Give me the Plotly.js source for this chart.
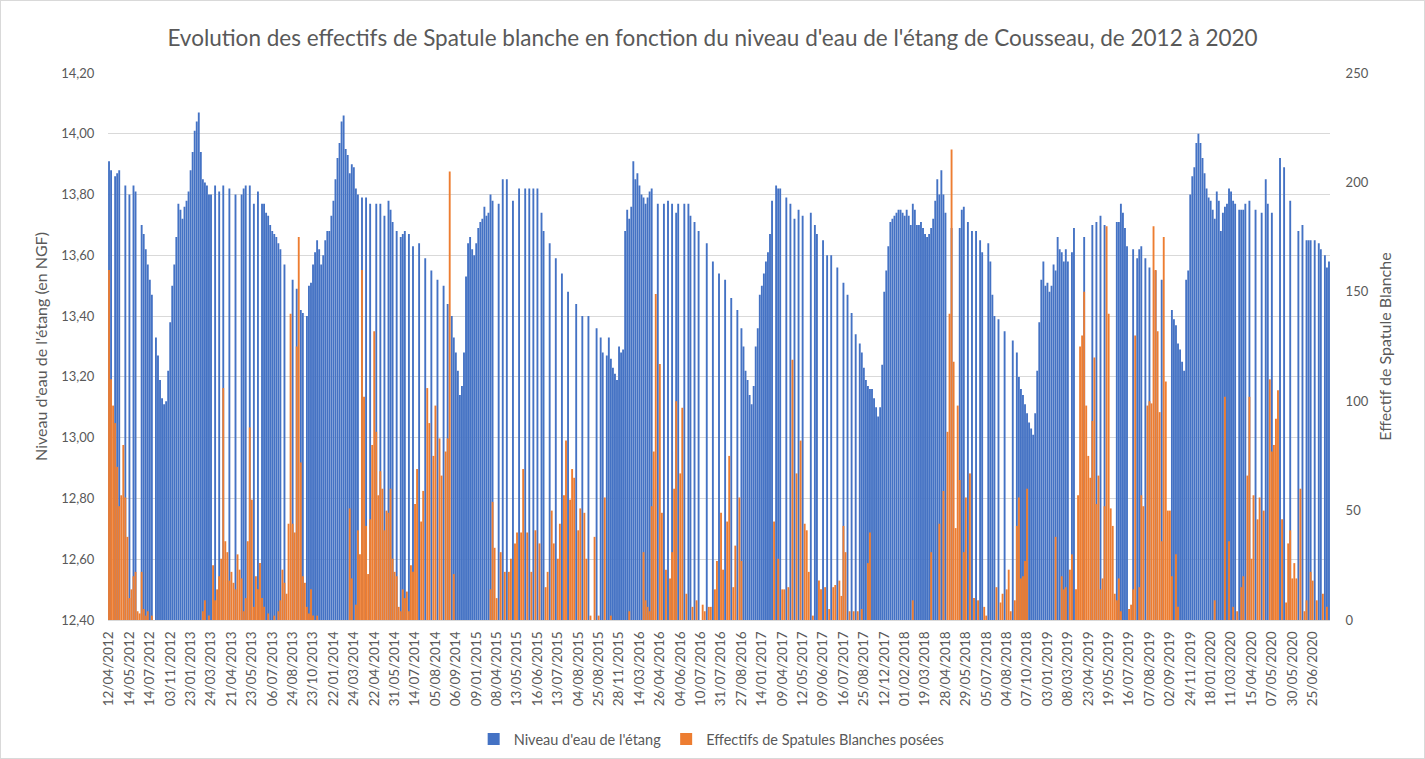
<!DOCTYPE html>
<html>
<head>
<meta charset="utf-8">
<script src="https://cdn.plot.ly/plotly-3.0.1.min.js"></script>
<style>
  html, body { margin: 0; padding: 0; background: #ffffff; }
  #chart { width: 1423px; height: 757px; border: 1px solid #d9d9d9; }
</style>
</head>
<body>
<div id="chart"></div>
<script>
const _ = null;

// Tick labels shown on the category axis (one every 10 rows)
const tickLabels = [
  "12/04/2012","14/05/2012","14/07/2012","03/11/2012","23/01/2013","24/03/2013","21/04/2013","23/05/2013","06/07/2013","24/08/2013",
  "23/10/2013","22/01/2014","24/03/2014","22/04/2014","31/05/2014","14/07/2014","05/08/2014","06/09/2014","09/01/2015","08/04/2015",
  "13/05/2015","16/06/2015","13/07/2015","04/08/2015","25/08/2015","28/11/2015","14/03/2016","26/04/2016","04/06/2016","10/07/2016",
  "31/07/2016","27/08/2016","14/01/2017","09/04/2017","12/05/2017","09/06/2017","16/07/2017","25/08/2017","12/12/2017","01/02/2018",
  "19/03/2018","28/04/2018","29/05/2018","05/07/2018","04/08/2018","07/10/2018","03/01/2019","08/03/2019","23/04/2019","19/05/2019",
  "16/07/2019","07/08/2019","02/09/2019","24/11/2019","18/01/2020","11/03/2020","15/04/2020","07/05/2020","30/05/2020","25/06/2020"
];

// Niveau d'eau de l'étang (m NGF), one value per row (null = not measured)
const niveauEau = [
  13.91,13.88,_,13.86,13.87,13.88,_,_,13.83,_,
  13.80,_,13.83,13.81,_,_,13.70,13.67,13.62,13.57,
  13.52,13.47,_,13.33,13.27,13.19,13.13,13.11,13.12,13.22,
  13.38,13.50,13.57,13.66,13.77,13.75,13.72,13.76,13.78,13.81,
  13.88,13.94,14.01,14.04,14.07,13.94,13.85,13.84,13.83,13.80,
  13.80,_,13.83,_,13.81,_,13.83,_,_,13.82,
  _,_,13.80,_,_,13.80,13.82,13.83,_,13.83,
  _,13.77,_,13.81,_,13.77,13.77,13.74,13.73,13.70,
  13.68,13.67,13.66,13.64,13.62,_,13.57,_,_,_,
  13.52,_,13.49,_,13.42,13.41,_,13.40,13.50,13.51,
  13.57,13.61,13.65,13.62,13.57,13.60,13.65,13.68,13.68,13.73,
  13.78,13.85,13.92,13.97,14.04,14.06,13.95,13.93,13.87,13.90,
  13.89,13.82,13.80,_,13.79,_,13.79,_,13.77,_,
  _,13.77,_,13.77,_,13.73,_,13.78,13.75,13.71,
  _,13.68,_,13.66,13.67,13.68,_,13.67,_,13.63,
  _,_,13.64,_,_,13.59,_,_,13.55,_,
  _,13.52,_,_,13.50,_,13.44,_,13.40,13.33,
  13.28,13.22,13.14,13.17,13.28,13.53,13.64,13.66,13.62,13.60,
  13.64,13.69,13.71,13.72,13.76,13.73,13.74,13.80,13.78,_,
  _,13.77,_,13.85,_,13.85,_,_,13.78,_,
  _,13.82,_,_,13.82,_,13.82,_,13.82,_,
  13.82,_,13.74,13.68,_,_,13.64,_,_,13.59,
  _,_,13.54,_,_,13.48,_,_,_,13.44,
  _,_,13.40,_,_,13.40,_,_,_,13.36,
  _,13.33,13.28,_,13.27,13.33,13.26,13.23,13.21,13.19,
  13.30,13.28,13.29,13.68,13.75,13.72,13.76,13.91,13.85,13.87,
  13.83,13.80,13.79,13.77,13.79,13.81,13.82,_,_,13.77,
  _,_,13.77,_,13.78,_,13.77,_,13.74,13.77,
  _,_,13.77,_,13.77,13.73,_,13.71,_,13.68,
  _,_,_,13.64,_,_,13.58,_,_,13.54,
  _,_,13.52,_,_,13.46,_,_,13.42,_,
  13.36,13.30,13.22,13.19,13.14,13.11,13.17,13.30,13.36,13.47,
  13.50,13.54,13.58,13.61,13.67,13.78,_,13.83,13.82,13.82,
  _,_,13.79,_,13.77,_,13.72,_,13.75,_,
  13.73,_,_,_,13.74,_,13.70,13.67,_,_,
  13.65,_,13.60,_,13.60,_,_,13.56,_,_,
  13.51,_,13.47,_,13.41,_,13.34,_,13.31,13.28,
  13.23,13.19,13.17,13.16,13.16,13.13,13.10,13.07,13.10,13.24,
  13.48,13.55,13.63,13.71,13.72,13.73,13.74,13.75,13.75,13.74,
  13.73,13.75,13.73,13.70,13.77,13.75,13.70,13.70,13.71,13.69,
  13.67,13.66,13.67,13.69,13.72,13.78,13.85,13.80,13.88,13.80,
  13.74,_,_,13.69,_,_,_,13.69,13.75,13.76,
  _,13.71,_,13.68,_,13.68,_,13.65,13.61,_,
  _,13.64,13.58,13.47,13.40,_,13.39,_,_,13.35,
  _,_,_,13.32,_,13.28,13.20,13.16,13.14,13.11,
  13.08,13.05,13.03,13.01,13.08,13.22,13.38,13.52,13.58,13.50,
  13.51,13.48,13.50,13.57,13.55,13.66,13.62,13.61,13.58,13.62,
  13.58,_,13.61,13.69,_,_,_,_,13.66,_,
  _,_,13.70,_,13.71,_,13.73,_,13.70,_,
  _,_,_,_,13.71,13.71,13.77,13.74,13.69,13.63,
  _,_,13.62,_,13.59,13.62,13.63,_,13.59,_,
  13.56,_,_,13.55,_,_,13.52,_,_,_,
  _,13.42,13.39,13.37,13.31,13.29,13.25,13.22,13.52,13.55,
  13.80,13.86,13.89,13.97,14.00,13.97,13.92,13.87,13.82,13.79,
  13.78,13.75,13.72,13.81,13.78,13.68,13.74,13.76,13.77,13.82,
  13.81,13.78,13.77,_,13.75,13.75,13.75,13.77,_,13.78,
  _,_,13.75,_,_,13.74,_,13.85,13.77,_,
  13.74,_,_,_,13.92,_,13.89,_,_,13.78,
  _,_,_,13.68,_,13.70,_,13.65,13.65,13.65,
  _,13.65,_,13.64,13.62,_,13.60,13.56,13.58
];

// Effectifs de Spatules Blanches posées, one value per row
const effectifs = [
  160,110,98,90,70,52,57,80,56,38,
  10,14,20,22,4,3,22,5,2,4,
  0,2,0,0,0,0,0,0,0,0,
  0,0,0,0,0,0,0,0,0,0,
  0,0,0,0,0,0,4,9,0,2,
  0,25,9,14,20,28,106,36,31,18,
  22,17,14,30,23,19,4,10,36,88,
  55,6,20,14,26,10,6,0,3,0,
  0,2,0,4,9,23,17,12,44,140,
  44,40,125,175,72,20,17,6,3,14,
  2,0,2,0,0,0,0,0,0,0,
  0,0,0,0,0,0,0,0,51,19,
  0,7,41,30,160,102,43,21,46,80,
  132,86,57,68,60,41,50,49,60,28,
  22,20,6,4,14,10,13,4,25,22,
  53,69,0,45,59,0,106,90,0,75,
  98,0,83,66,0,77,83,205,0,21,
  0,0,0,0,0,0,0,0,0,0,
  0,0,0,0,0,0,0,14,54,33,
  10,0,31,0,22,0,22,28,0,35,
  40,0,40,69,0,40,0,22,0,41,
  0,35,0,0,15,22,0,50,35,0,
  28,44,0,57,82,0,55,69,65,0,
  41,51,0,49,28,0,2,0,38,0,
  2,0,0,56,0,0,2,0,0,0,
  0,0,0,0,0,4,0,0,0,0,
  0,0,31,9,6,4,52,77,149,0,
  117,49,0,23,0,19,31,60,100,0,
  67,97,0,12,0,0,6,0,9,0,
  0,7,4,0,6,6,0,14,27,0,
  49,23,0,45,75,0,15,34,0,56,
  27,0,0,0,0,0,0,0,0,0,
  0,0,0,0,0,0,45,0,28,0,
  14,14,0,15,0,119,0,67,0,82,
  0,44,41,22,0,2,0,0,18,14,
  0,15,0,5,0,15,16,0,18,11,
  43,31,0,4,0,4,0,4,0,5,
  0,0,26,40,0,0,0,0,0,0,
  0,0,0,0,0,0,0,0,0,0,
  0,0,0,0,9,0,0,0,0,0,
  0,0,0,31,0,0,0,44,0,59,
  0,86,140,215,118,42,98,64,0,31,
  56,0,67,0,10,0,9,0,0,6,
  2,0,0,0,0,15,0,8,12,0,
  14,23,4,0,9,43,56,19,20,27,
  60,0,0,0,0,0,0,0,0,0,
  0,0,0,0,38,0,0,20,14,15,
  0,23,30,0,14,57,125,130,150,98,
  75,65,91,120,53,66,14,19,52,180,
  140,51,43,12,9,19,4,0,0,0,
  5,7,14,130,0,15,57,52,0,98,
  100,99,180,160,132,95,36,175,109,50,
  50,20,0,30,6,0,0,0,0,0,
  0,0,0,0,0,0,0,0,0,0,
  0,0,9,0,0,0,0,102,0,36,
  0,6,0,4,0,15,20,0,66,102,
  28,57,0,46,56,0,50,0,0,110,
  77,80,92,105,0,46,0,8,35,41,
  19,26,19,0,60,0,4,9,0,22,
  18,0,9,0,0,12,0,6,0
];

const seriesNames = ["Niveau d'eau de l'étang", "Effectifs de Spatules Blanches posées"];
const chartTitle = "Evolution des effectifs de Spatule blanche en fonction du niveau d'eau de l'étang de Cousseau, de 2012 à 2020";

const N = niveauEau.length;
const xs = niveauEau.map((v, i) => i);
const tickVals = tickLabels.map((t, i) => i * 10);

const traces = [
  {
    type: 'bar', x: xs, y: niveauEau, name: seriesNames[0],
    marker: { color: '#4472C4', line: { width: 0 } },
    yaxis: 'y', hoverinfo: 'skip'
  },
  {
    type: 'bar', x: xs, y: effectifs, name: seriesNames[1],
    marker: { color: '#ED7D31', line: { width: 0 } },
    yaxis: 'y2', hoverinfo: 'skip'
  }
];

const layout = {
  width: 1423, height: 757,
  margin: { l: 107, r: 94, t: 72, b: 138, pad: 0, autoexpand: false },
  paper_bgcolor: '#ffffff', plot_bgcolor: '#ffffff',
  font: { family: 'Lato, "Open Sans", sans-serif', color: '#595959', size: 13 },
  separators: ', ',
  title: {
    text: chartTitle,
    font: { size: 22.5, color: '#595959' },
    x: 0.5, xanchor: 'center', xref: 'container',
    y: 1 - 37 / 757, yanchor: 'middle', yref: 'container'
  },
  barmode: 'overlay',
  bargap: 0.08,
  xaxis: {
    range: [-0.5, N - 0.5], automargin: false,
    tickmode: 'array', tickvals: tickVals, ticktext: tickLabels,
    tickangle: -90, tickfont: { size: 13.5, color: '#595959' },
    ticks: 'outside', ticklen: 5, tickcolor: 'rgba(0,0,0,0)',
    showgrid: false, zeroline: false,
    showline: true, linecolor: '#d9d9d9', linewidth: 1
  },
  yaxis: {
    range: [12.4, 14.2], tick0: 12.4, dtick: 0.2, tickformat: '.2f', automargin: false,
    tickfont: { size: 13, color: '#595959' },
    ticks: 'outside', ticklen: 10, tickcolor: 'rgba(0,0,0,0)',
    showgrid: true, gridcolor: '#d9d9d9', gridwidth: 1,
    zeroline: false, showline: false,
    title: { text: "Niveau d'eau de l'étang (en NGF)", font: { size: 16, color: '#595959' }, standoff: 9 }
  },
  yaxis2: {
    range: [0, 250], tick0: 0, dtick: 50, automargin: false,
    overlaying: 'y', side: 'right',
    tickfont: { size: 13, color: '#595959' },
    ticks: 'outside', ticklen: 12, tickcolor: 'rgba(0,0,0,0)',
    showgrid: false, zeroline: false, showline: false,
    title: { text: 'Effectif de Spatule Blanche', font: { size: 16, color: '#595959' }, standoff: 12 }
  },
  showlegend: true,
  legend: {
    orientation: 'h', x: 0.494, xanchor: 'center',
    y: 1 - 738 / 757, yanchor: 'middle', yref: 'container',
    itemwidth: 30,
    font: { size: 14.5, color: '#595959' },
    traceorder: 'normal'
  }
};

Plotly.newPlot('chart', traces, layout, { staticPlot: true, displayModeBar: false });
</script>
</body>
</html>
